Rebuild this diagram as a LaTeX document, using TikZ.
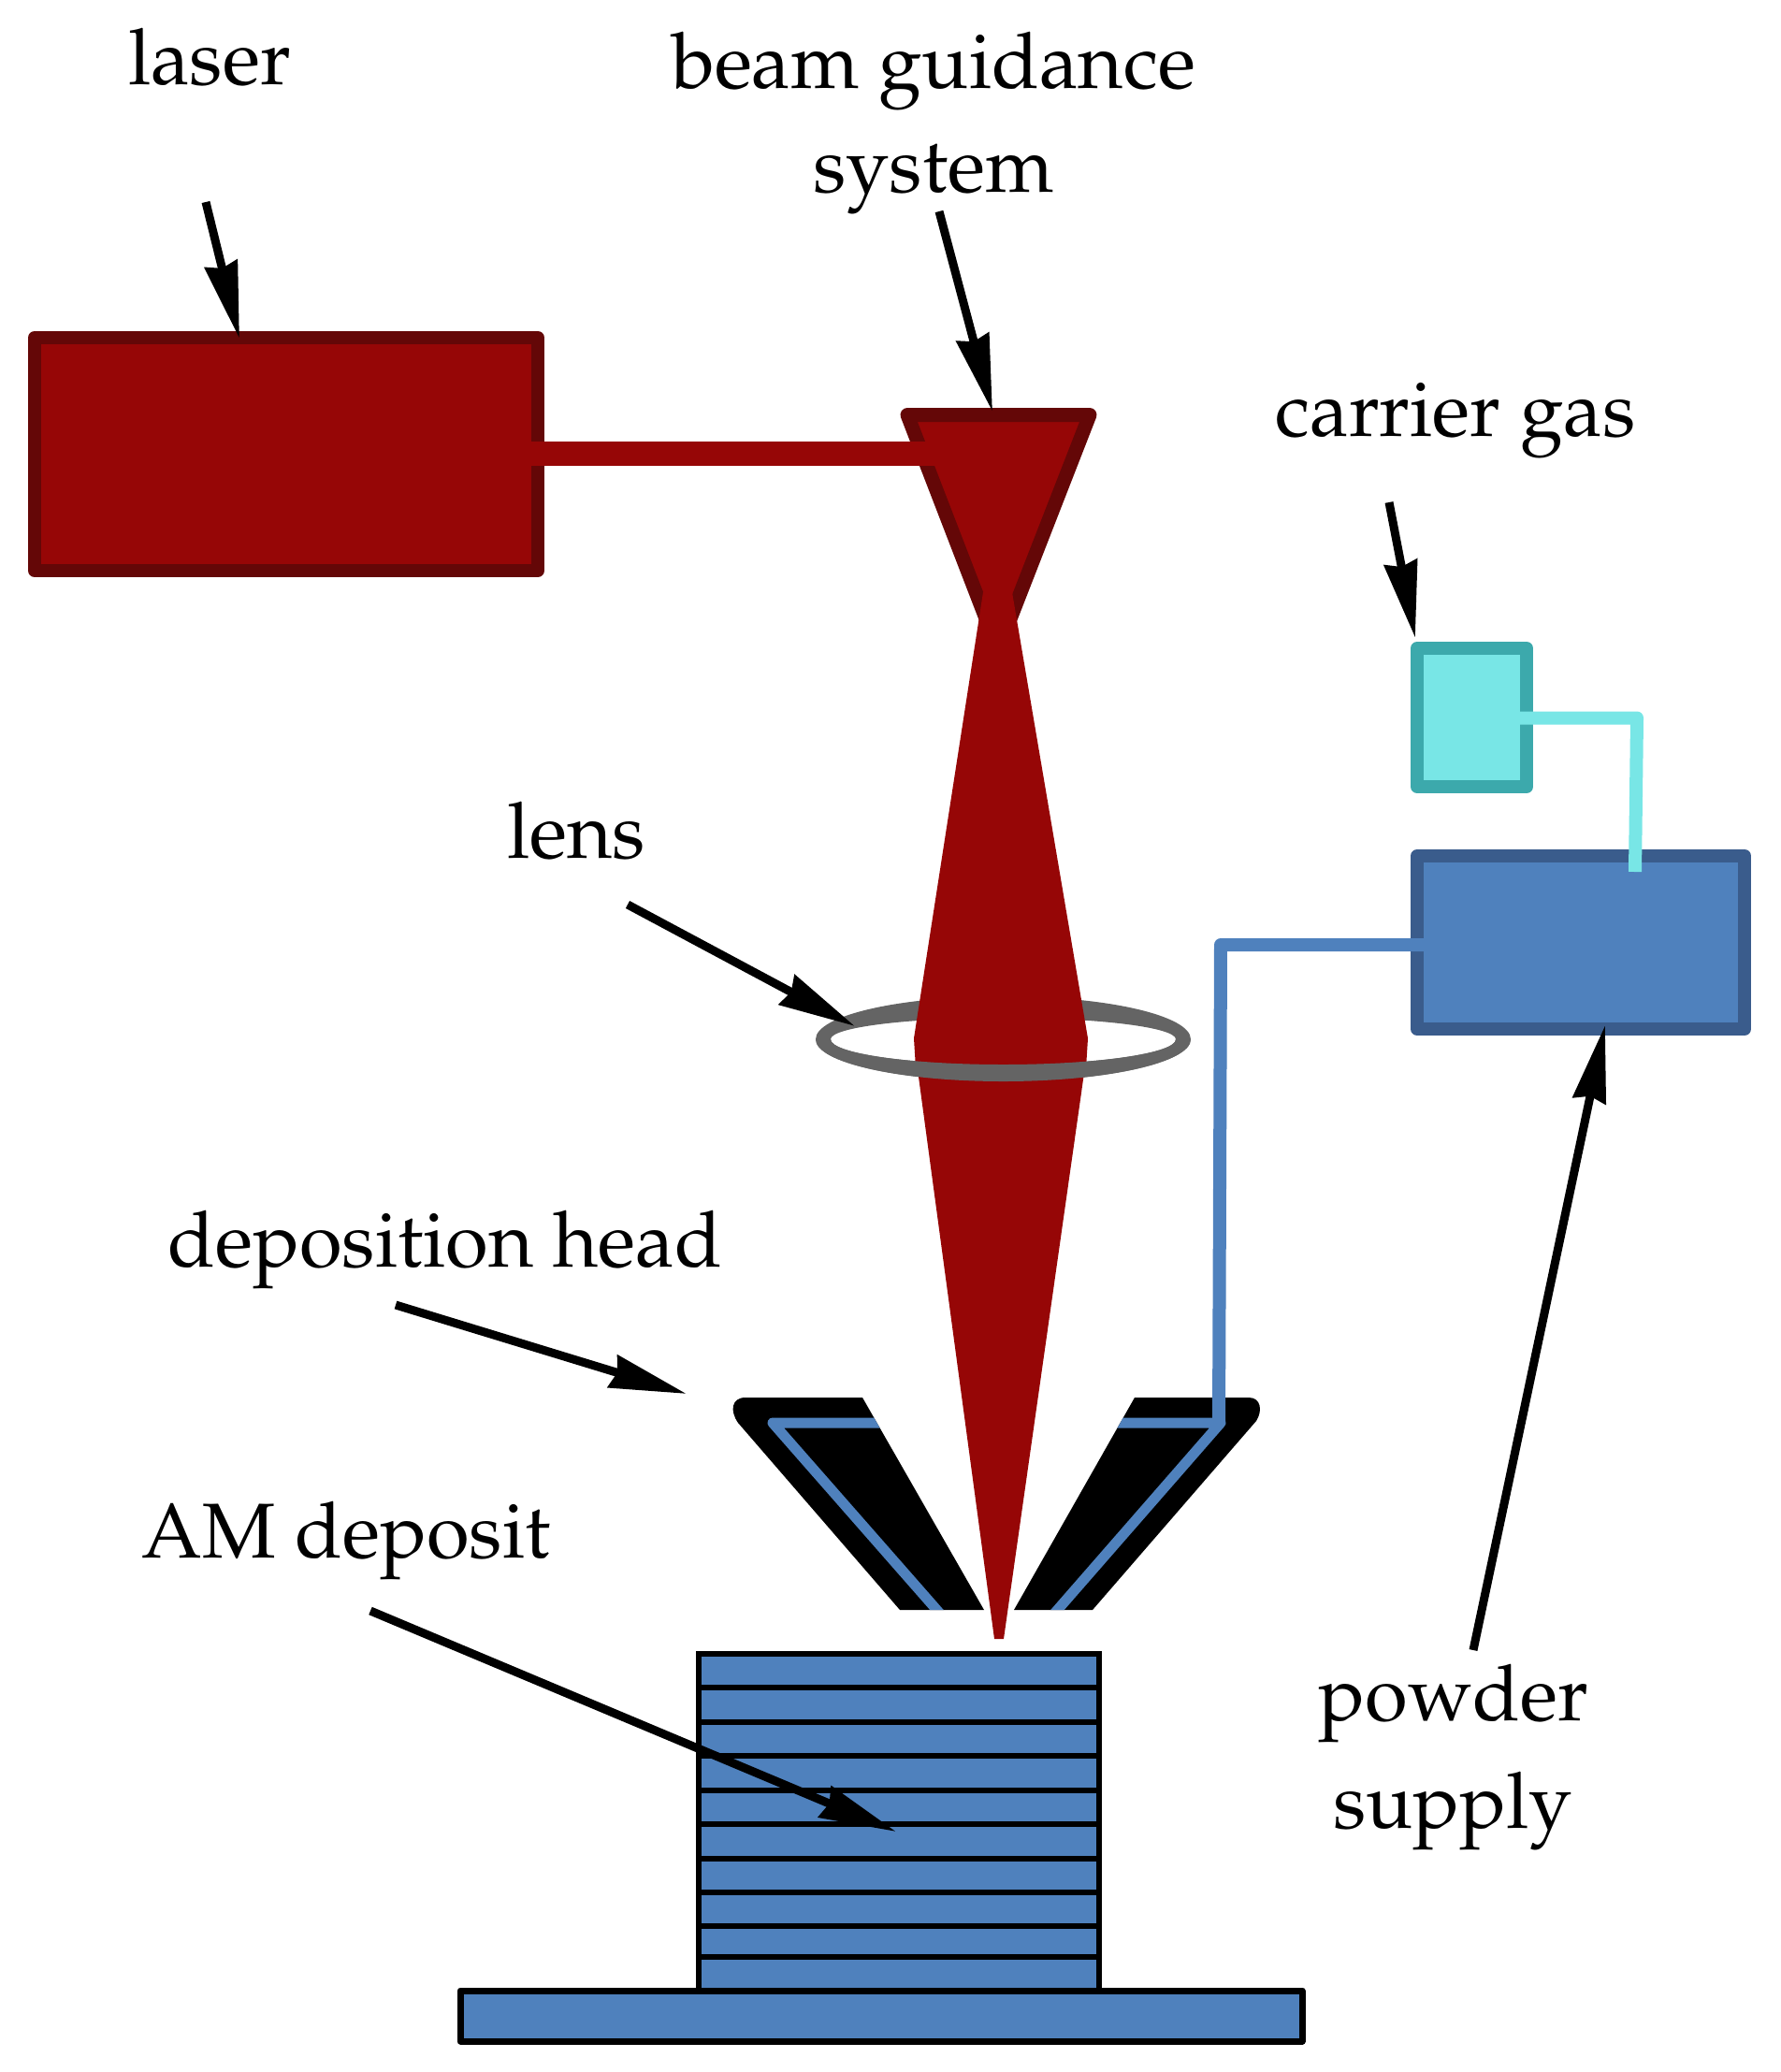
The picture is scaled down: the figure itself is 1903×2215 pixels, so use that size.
\documentclass[tikz,border=0pt]{standalone}
\usepackage[T1]{fontenc}
\usepackage{mathpazo}
\usetikzlibrary{arrows.meta}
\definecolor{beamred}{HTML}{960606}
\definecolor{darkred}{HTML}{640707}
\definecolor{steel}{HTML}{4F81BD}
\definecolor{darksteel}{HTML}{3A5C8C}
\definecolor{cyanfill}{HTML}{78E6E6}
\definecolor{cyandark}{HTML}{3CA9AC}
\definecolor{lensgrey}{HTML}{646464}
\newcommand{\headL}{(922,1494) -- (797,1494) .. controls (782,1494) and (780,1508) .. (789,1521) -- (962,1721) -- (1052,1721) -- cycle}
\newcommand{\headR}{(1213,1494) -- (1335,1494) .. controls (1348,1494) and (1350,1508) .. (1343,1519) -- (1168,1721) -- (1084,1721) -- cycle}
\tikzset{
  lw/.style={line width=#1*0.8536pt},
  lbl/.style={anchor=base,inner sep=0pt,font=\fontsize{71}{71}\selectfont},
  pointer/.style={lw=9,draw=black,-{Stealth[length=70pt,width=30pt,inset=4pt]}},
  box/.style={lw=14,line join=round},
  tube/.style={lw=14,line join=round},
  layer/.style={lw=5.5,draw=black}
}
\begin{document}
\begin{tikzpicture}[x=0.03cm,y=-0.03cm]
\useasboundingbox (0,0) rectangle (1903,2215);
% laser
\draw[box,draw=darkred,fill=beamred] (37,361) rectangle (575,610);
% beam guidance funnel
\draw[lw=15,line join=round,draw=darkred,fill=beamred] (970,443.5) -- (1165,443.5) -- (1067,695) -- cycle;
\fill[beamred] (560,472) rectangle (1000,498);
% lens ring (behind the beam)
\fill[lensgrey,even odd rule]
  (872,1111) arc [start angle=180,end angle=360,x radius=200.5,y radius=46]
  arc [start angle=0,end angle=180,x radius=200.5,y radius=45] -- cycle
  (888,1111) arc [start angle=180,end angle=360,x radius=184.5,y radius=23]
  arc [start angle=0,end angle=180,x radius=184.5,y radius=27] -- cycle;
% beam
\fill[beamred] (1051,633) -- (1082,633) -- (1163,1110) -- (1161,1142) -- (979,1142) -- (977,1110) -- cycle;
\fill[beamred] (980.5,1140) -- (1160,1140) -- (1073,1752) -- (1063,1752) -- cycle;
% lens ring (front half)
\fill[lensgrey]
  (872,1111) arc [start angle=180,end angle=360,x radius=200.5,y radius=-45]
  -- (1257,1111) arc [start angle=0,end angle=180,x radius=184.5,y radius=27] -- cycle;
% deposition head
\fill[black] \headL;
\fill[black] \headR;
\begin{scope}
\clip \headL;
\draw[lw=11,draw=steel,line join=round] (945,1521) -- (826,1521) -- (1012,1733);
\end{scope}
\begin{scope}
\clip \headR;
\draw[lw=11,draw=steel,line join=round] (1190,1521) -- (1305,1521) -- (1120,1733);
\end{scope}
% powder supply and carrier gas
\draw[box,draw=cyandark,fill=cyanfill] (1515,693) rectangle (1632,841);
\draw[box,draw=darksteel,fill=steel] (1515,915) rectangle (1865,1100);
\draw[tube,draw=cyanfill] (1624,767.5) -- (1750,767.5) -- (1748,932);
\draw[tube,draw=steel] (1522,1010) -- (1305,1010) -- (1303,1523);
% deposit stack
\draw[lw=6,draw=black,fill=steel] (747,1768) rectangle (1175,2128);
\foreach \yy in {1804,1841,1877,1914,1950,1987,2023,2059,2092}
  \draw[layer] (747,\yy) -- (1175,\yy);
\draw[lw=7,draw=black,fill=steel,line join=round] (492,2128) rectangle (1392,2182);
% labels
\node[lbl] (laser) at (224,91) {laser};
\node[lbl] (beam) at (998,94) {beam guidance};
\node[lbl] (system) at (998,205) {system};
\node[lbl] (carrier) at (1556,466) {carrier gas};
\node[lbl] (lens) at (616,917) {lens};
\node[lbl] (dephead) at (476,1354) {deposition head};
\node[lbl] (am) at (370,1665) {AM deposit};
\node[lbl] (powder) at (1554,1839) {powder};
\node[lbl] (supply) at (1553,1954) {supply};
% pointers
\coordinate (t1) at (220,216); \coordinate (h1) at (256,362);
\coordinate (t2) at (1004,226); \coordinate (h2) at (1061,440);
\coordinate (t3) at (1485,537); \coordinate (h3) at (1513,682);
\coordinate (t4) at (671,967); \coordinate (h4) at (914,1097);
\coordinate (t5) at (423,1395); \coordinate (h5) at (734,1490);
\coordinate (t6) at (396,1722); \coordinate (h6) at (958,1958);
\coordinate (t7) at (1575,1764); \coordinate (h7) at (1716,1096);
\foreach \n in {1,...,7} \draw[pointer] (t\n) -- (h\n);
\end{tikzpicture}
\end{document}
